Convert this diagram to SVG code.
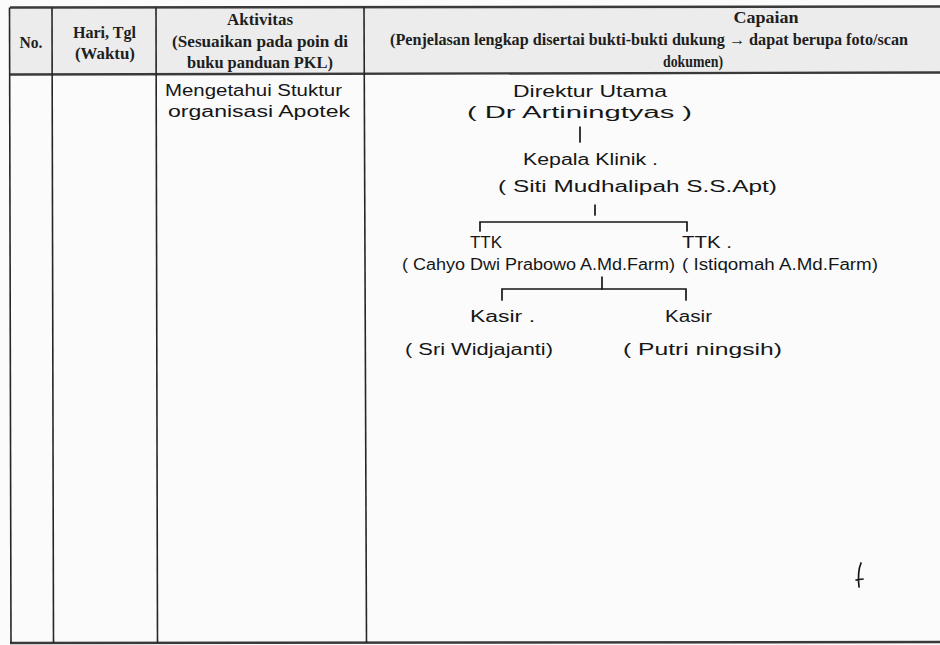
<svg xmlns="http://www.w3.org/2000/svg" width="940" height="645" viewBox="0 0 940 645">
  <style>
    .grid { stroke: #262626; stroke-width: 1.6; fill: none; }
    .thick { stroke: #3a3a3a; stroke-width: 2.4; fill: none; }
    .hdr { font-family: "Liberation Serif", "Times New Roman", serif; font-weight: bold; font-size: 16.5px; fill: #1e1e1e; text-anchor: middle; }
    .hw { font-family: "Liberation Sans", Arial, sans-serif; font-size: 16px; fill: #161616; }
    .pen { stroke: #161616; stroke-width: 1.7; fill: none; stroke-linecap: round; }
  </style>
  <rect x="0" y="0" width="940" height="645" fill="#fbfbfb"/>
  <rect x="10" y="7.5" width="930" height="66.5" fill="#ececec"/>

  <g id="table">
    <line class="thick" x1="10" y1="7.5" x2="940" y2="6.5"/>
    <line class="thick" x1="10" y1="74.5" x2="940" y2="72.5"/>
    <line class="thick" x1="10" y1="643" x2="940" y2="642"/>
    <line class="grid" x1="9.5" y1="7.5" x2="11" y2="643"/>
    <line class="grid" x1="52" y1="7.5" x2="53.5" y2="643"/>
    <line class="grid" x1="156" y1="7.5" x2="157.5" y2="643"/>
    <line class="grid" x1="364" y1="7" x2="366.5" y2="643"/>
  </g>

  <g id="header">
    <text class="hdr" x="31" y="48" textLength="23" lengthAdjust="spacingAndGlyphs">No.</text>
    <text class="hdr" x="104.5" y="38" textLength="63" lengthAdjust="spacingAndGlyphs">Hari, Tgl</text>
    <text class="hdr" x="105" y="59" textLength="60" lengthAdjust="spacingAndGlyphs">(Waktu)</text>
    <text class="hdr" x="260" y="25" textLength="66" lengthAdjust="spacingAndGlyphs">Aktivitas</text>
    <text class="hdr" x="260" y="47" textLength="176" lengthAdjust="spacingAndGlyphs">(Sesuaikan pada poin di</text>
    <text class="hdr" x="260" y="68" textLength="146" lengthAdjust="spacingAndGlyphs">buku panduan PKL)</text>
    <text class="hdr" x="766" y="23" textLength="65" lengthAdjust="spacingAndGlyphs">Capaian</text>
    <text class="hdr" x="649" y="45" textLength="518" lengthAdjust="spacingAndGlyphs">(Penjelasan lengkap disertai bukti-bukti dukung → dapat berupa foto/scan</text>
    <text class="hdr" x="693" y="67" textLength="60" lengthAdjust="spacingAndGlyphs">dokumen)</text>
  </g>

  <g id="aktivitas">
    <text class="hw" x="165" y="96" textLength="177" lengthAdjust="spacingAndGlyphs">Mengetahui Stuktur</text>
    <text class="hw" x="168" y="117" textLength="182" lengthAdjust="spacingAndGlyphs">organisasi Apotek</text>
  </g>

  <g id="direktur">
    <text class="hw" x="513" y="97" textLength="154" lengthAdjust="spacingAndGlyphs">Direktur Utama</text>
    <text class="hw" x="467" y="118" textLength="225" lengthAdjust="spacingAndGlyphs">( Dr  Artiningtyas )</text>
  </g>
  <g id="kepala">
    <text class="hw" x="523" y="165" textLength="135" lengthAdjust="spacingAndGlyphs">Kepala Klinik .</text>
    <text class="hw" x="498" y="192" textLength="279" lengthAdjust="spacingAndGlyphs">( Siti Mudhalipah S.S.Apt)</text>
  </g>
  <g id="ttk1">
    <text class="hw" x="470" y="248" textLength="32" lengthAdjust="spacingAndGlyphs">TTK</text>
    <text class="hw" x="402" y="270" textLength="273" lengthAdjust="spacingAndGlyphs">( Cahyo Dwi Prabowo A.Md.Farm)</text>
  </g>
  <g id="ttk2">
    <text class="hw" x="682" y="248" textLength="50" lengthAdjust="spacingAndGlyphs">TTK .</text>
    <text class="hw" x="682" y="270" textLength="196" lengthAdjust="spacingAndGlyphs">( Istiqomah A.Md.Farm)</text>
  </g>
  <g id="kasir1">
    <text class="hw" x="470" y="322" textLength="65" lengthAdjust="spacingAndGlyphs">Kasir .</text>
    <text class="hw" x="405" y="355" textLength="148" lengthAdjust="spacingAndGlyphs">( Sri Widjajanti)</text>
  </g>
  <g id="kasir2">
    <text class="hw" x="665" y="322" textLength="47" lengthAdjust="spacingAndGlyphs">Kasir</text>
    <text class="hw" x="623" y="355" textLength="159" lengthAdjust="spacingAndGlyphs">( Putri ningsih)</text>
  </g>

  <g id="connectors">
    <path class="pen" d="M580 127 L580 142"/>
    <path class="pen" d="M595 205 L595 215"/>
    <path class="pen" d="M480 231 L480 222 L687 222 L687 231"/>
    <path class="pen" d="M602 277 L602 289"/>
    <path class="pen" d="M502 300 L502 289 L686 289 L686 300"/>
  </g>

  <g id="marks">
    <path class="pen" d="M861 563 C 858 570, 858 578, 859 587 M856 580 L863 579" stroke-width="2"/>
  </g>
</svg>
